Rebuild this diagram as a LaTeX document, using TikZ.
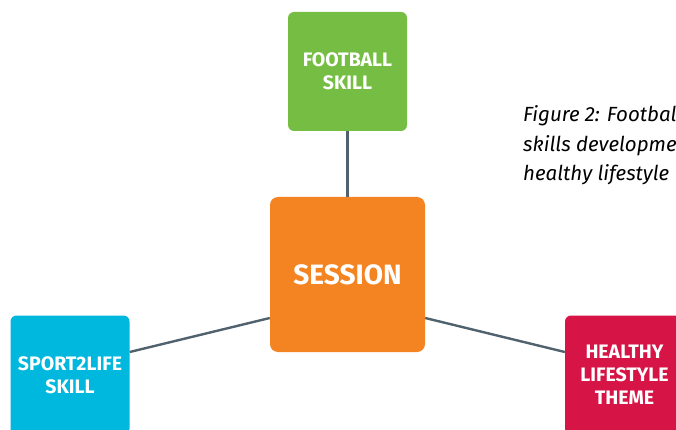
\documentclass[tikz,border=0pt]{standalone}
\usepackage{fontspec}
\setmainfont{Fira Sans}
\definecolor{fgreen}{RGB}{118,190,67}
\definecolor{forange}{RGB}{244,131,33}
\definecolor{fblue}{RGB}{0,183,222}
\definecolor{fred}{RGB}{215,20,70}
\definecolor{fline}{RGB}{80,98,110}
\begin{document}
\begin{tikzpicture}[x=1pt,y=-1pt,
  skillbox/.style={rounded corners=6pt, minimum width=119pt, minimum height=119pt,
    inner sep=0pt, align=center, text=white,
    font=\fontsize{19.5}{23}\selectfont\bfseries},
  sessbox/.style={rounded corners=8pt, minimum width=155pt, minimum height=155pt,
    inner sep=0pt, text=white, fill=forange,
    font=\fontsize{28}{34}\selectfont\bfseries},
  conn/.style={draw=fline, line width=2.4pt},
  captxt/.style={anchor=base west, inner sep=0pt,
    font=\fontsize{20.5}{30}\selectfont\itshape}]
\clip (0,0) rectangle (676,430);
\fill[white] (0,0) rectangle (676,430);
\node[skillbox, fill=fgreen] (football) at (347.5,71.5) {FOOTBALL\\SKILL};
\node[sessbox] (session) at (347.5,274.5) {SESSION};
\node[skillbox, fill=fblue] (s2l) at (70,375) {SPORT2LIFE\\SKILL};
\node[skillbox, fill=fred] (healthy) at (624.5,375) {HEALTHY\\LIFESTYLE\\THEME};
\draw[conn] (football.south) -- (session.north);
\draw[conn] ([yshift=-43.5pt]session.west) -- ([yshift=23pt]s2l.east);
\draw[conn] ([yshift=-43.5pt]session.east) -- ([yshift=23pt]healthy.west);
\node[captxt] (cap1) at (523,122) {Figure 2: Football};
\node[captxt] (cap2) at (523,152) {skills development};
\node[captxt] (cap3) at (523,181) {healthy lifestyle};
\end{tikzpicture}
\end{document}
